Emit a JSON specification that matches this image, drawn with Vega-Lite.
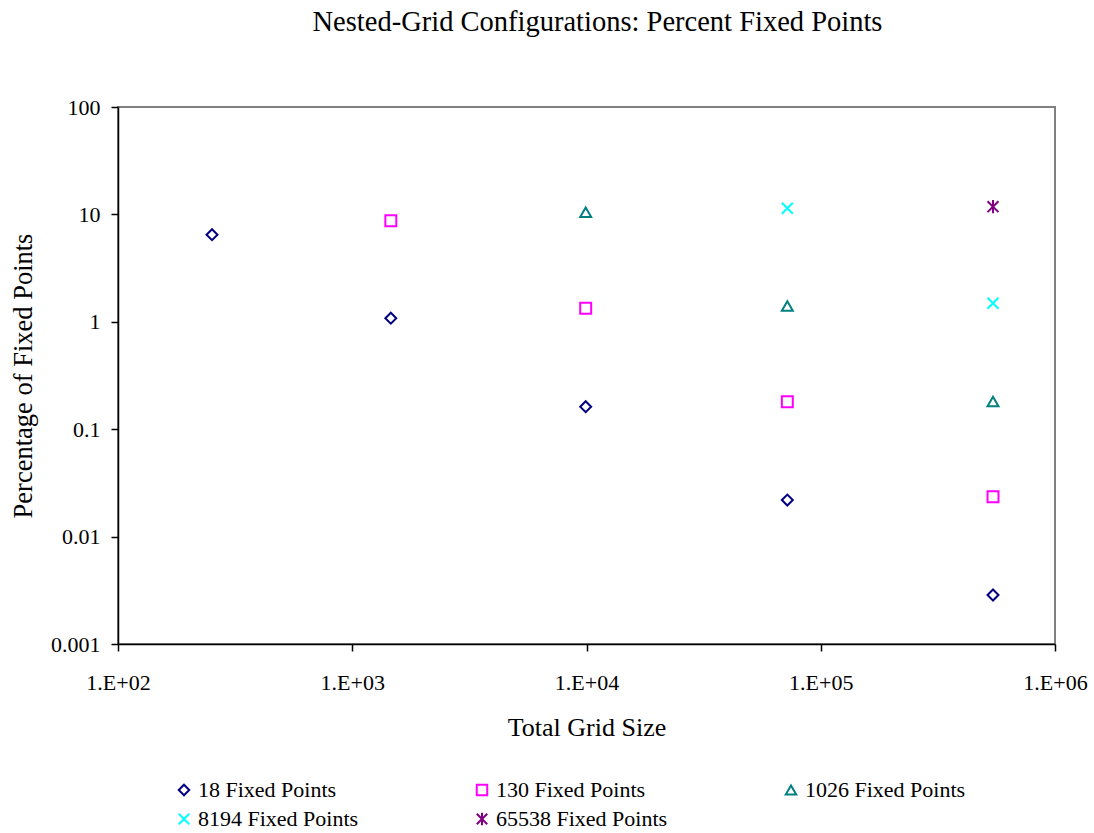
{
  "$schema": "https://vega.github.io/schema/vega-lite/v6.json",
  "width": 937,
  "height": 537,
  "autosize": {"type": "none"},
  "padding": {"left": 118, "top": 107, "right": 39, "bottom": 189},
  "background": "white",
  "title": {
    "text": "Nested-Grid Configurations: Percent Fixed Points",
    "font": "Liberation Serif",
    "fontSize": 28.5,
    "fontWeight": "normal",
    "color": "black",
    "anchor": "middle",
    "dx": 11,
    "offset": 60
  },
  "config": {
    "font": "Liberation Serif",
    "view": {"stroke": "#808080", "strokeWidth": 2}
  },
  "data": {
    "values": [
      {"series": "18 Fixed Points", "gridSize": 252, "percent": 6.47},
      {"series": "18 Fixed Points", "gridSize": 1461, "percent": 1.08},
      {"series": "18 Fixed Points", "gridSize": 9920, "percent": 0.162},
      {"series": "18 Fixed Points", "gridSize": 72000, "percent": 0.0219},
      {"series": "18 Fixed Points", "gridSize": 543700, "percent": 0.00286},
      {"series": "130 Fixed Points", "gridSize": 1461, "percent": 8.73},
      {"series": "130 Fixed Points", "gridSize": 9920, "percent": 1.336},
      {"series": "130 Fixed Points", "gridSize": 72000, "percent": 0.18},
      {"series": "130 Fixed Points", "gridSize": 543700, "percent": 0.0235},
      {"series": "1026 Fixed Points", "gridSize": 9920, "percent": 10.46},
      {"series": "1026 Fixed Points", "gridSize": 72000, "percent": 1.4},
      {"series": "1026 Fixed Points", "gridSize": 543700, "percent": 0.181},
      {"series": "8194 Fixed Points", "gridSize": 72000, "percent": 11.4},
      {"series": "8194 Fixed Points", "gridSize": 543700, "percent": 1.49},
      {"series": "65538 Fixed Points", "gridSize": 543700, "percent": 11.8}
    ]
  },
  "mark": {"type": "point", "filled": false, "strokeWidth": 2, "size": 120, "opacity": 1},
  "encoding": {
    "x": {
      "field": "gridSize",
      "type": "quantitative",
      "scale": {"type": "log", "domain": [100, 1000000], "nice": false},
      "axis": {
        "title": "Total Grid Size",
        "values": [100, 1000, 10000, 100000, 1000000],
        "labelExpr": "'1.E+0' + round(log(datum.value) / LN10)",
        "grid": false,
        "domainColor": "black",
        "domainWidth": 1.5,
        "tickColor": "black",
        "tickSize": 7,
        "tickWidth": 1.5,
        "labelFont": "Liberation Serif",
        "labelFontSize": 22,
        "labelColor": "black",
        "labelPadding": 21,
        "labelFlush": false,
        "titleFont": "Liberation Serif",
        "titleFontSize": 26,
        "titleFontWeight": "normal",
        "titleColor": "black",
        "titlePadding": 21
      }
    },
    "y": {
      "field": "percent",
      "type": "quantitative",
      "scale": {"type": "log", "domain": [0.001, 100], "nice": false},
      "axis": {
        "title": "Percentage of Fixed Points",
        "values": [0.001, 0.01, 0.1, 1, 10, 100],
        "format": "~g",
        "grid": false,
        "domainColor": "black",
        "domainWidth": 1.5,
        "tickColor": "black",
        "tickSize": 7,
        "tickWidth": 1.5,
        "labelFont": "Liberation Serif",
        "labelFontSize": 22,
        "labelColor": "black",
        "labelPadding": 11,
        "labelFlush": false,
        "titleFont": "Liberation Serif",
        "titleFontSize": 26.5,
        "titleFontWeight": "normal",
        "titleColor": "black",
        "titlePadding": 13
      }
    },
    "color": {
      "field": "series",
      "type": "nominal",
      "scale": {
        "domain": ["18 Fixed Points", "130 Fixed Points", "1026 Fixed Points", "8194 Fixed Points", "65538 Fixed Points"],
        "range": ["#000080", "#FF00FF", "#008080", "#00FFFF", "#800080"]
      },
      "legend": {
        "orient": "none",
        "legendX": 55,
        "legendY": 672,
        "direction": "horizontal",
        "columns": 3,
        "columnPadding": 112,
        "rowPadding": 7,
        "title": null,
        "padding": 0,
        "labelFont": "Liberation Serif",
        "labelFontSize": 22,
        "labelColor": "black",
        "labelLimit": 400,
        "labelOffset": 3,
        "symbolSize": 110,
        "symbolStrokeWidth": 2
      }
    },
    "shape": {
      "field": "series",
      "type": "nominal",
      "scale": {
        "domain": ["18 Fixed Points", "130 Fixed Points", "1026 Fixed Points", "8194 Fixed Points", "65538 Fixed Points"],
        "range": ["diamond", "square", "triangle-up", "M-1,-1L1,1M-1,1L1,-1", "M-1,-1L1,1M-1,1L1,-1M0,-1.2L0,1.2"]
      },
      "legend": {
        "orient": "none",
        "legendX": 55,
        "legendY": 672,
        "direction": "horizontal",
        "columns": 3,
        "columnPadding": 112,
        "rowPadding": 7,
        "title": null,
        "padding": 0,
        "labelFont": "Liberation Serif",
        "labelFontSize": 22,
        "labelColor": "black",
        "labelLimit": 400,
        "labelOffset": 3,
        "symbolSize": 110,
        "symbolStrokeWidth": 2
      }
    }
  }
}
